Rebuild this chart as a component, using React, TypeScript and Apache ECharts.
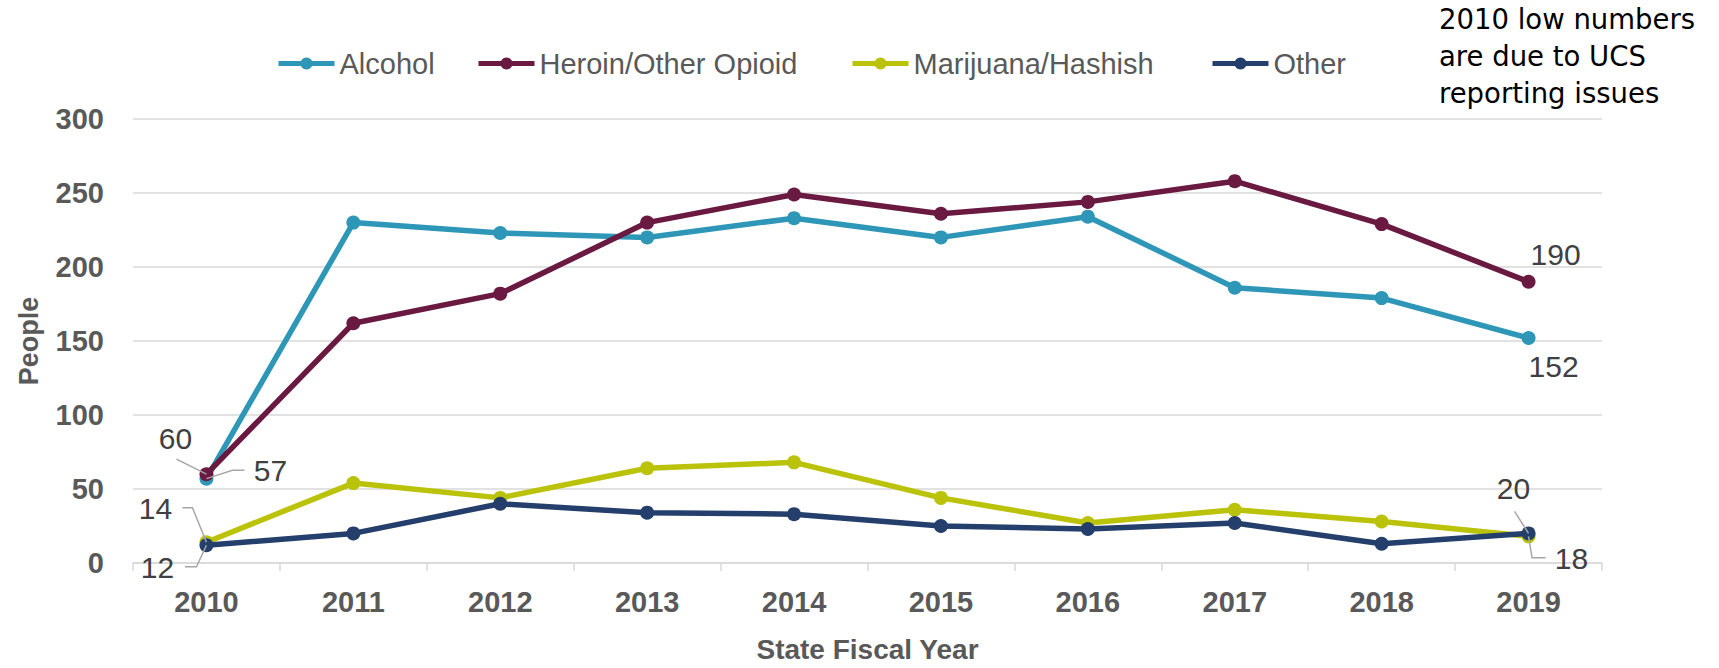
import React, { useEffect, useRef } from 'react';
import * as echarts from 'echarts';

const FONT = '"Liberation Sans", Arial, sans-serif';
const NOTE_FONT = '"DejaVu Sans", "Liberation Sans", Arial, sans-serif';

const years = ['2010', '2011', '2012', '2013', '2014', '2015', '2016', '2017', '2018', '2019'];
const alcohol = [57, 230, 223, 220, 233, 220, 234, 186, 179, 152];
const heroin = [60, 162, 182, 230, 249, 236, 244, 258, 229, 190];
const marijuana = [14, 54, 44, 64, 68, 44, 27, 36, 28, 18];
const other = [12, 20, 40, 34, 33, 25, 23, 27, 13, 20];
const seriesNames = ['Alcohol', 'Heroin/Other Opioid', 'Marijuana/Hashish', 'Other'];
const colors = ['#2E96B7', '#6A1A41', '#BAC20A', '#243F6C'];
const yMin = 0;
const yMax = 300;
const yStep = 50;
const noteLines = ['2010 low numbers', 'are due to UCS', 'reporting issues'];

// legend item left edges (px)
const legendLefts = [271, 471, 845, 1205];

// label placement (offsets from the point, in px) and leader lines
type LabelSpec = { idx: number; offset: [number, number]; leader?: [number, number][] };
const labelSpecs: LabelSpec[][] = [
  [
    { idx: 0, offset: [64, -8], leader: [[38, -8.4], [26, -8.4], [0, 0]] },
    { idx: 9, offset: [25, 28] },
  ],
  [
    { idx: 0, offset: [-31, -36], leader: [[-30, -15], [0, 0]] },
    { idx: 9, offset: [27, -27] },
  ],
  [
    { idx: 0, offset: [-51, -34], leader: [[-24, -34.5], [-14, -34.5], [0, 0]] },
    { idx: 9, offset: [43, 22], leader: [[0, 0], [3.5, 21.5], [17, 21.5]] },
  ],
  [
    { idx: 0, offset: [-49, 22], leader: [[-21.5, 21.5], [-10, 21.5], [0, 0]] },
    { idx: 9, offset: [-15, -45], leader: [[-14, -22], [0, 0]] },
  ],
];

export default function App() {
  const ref = useRef<HTMLDivElement>(null);
  useEffect(() => {
    document.body.style.margin = '0';
    const chart = echarts.init(ref.current!, null, { renderer: 'svg', width: 1719, height: 668 });
    const allValues = [alcohol, heroin, marijuana, other];
    const series = allValues.map((vals, si) => ({
      name: seriesNames[si],
      type: 'line',
      data: vals.map((v, i) => {
        const spec = labelSpecs[si].find((s) => s.idx === i);
        if (!spec) return v;
        return {
          value: v,
          label: {
            show: true,
            position: 'inside',
            offset: spec.offset,
            formatter: String(v),
            fontSize: 30,
            color: '#404040',
            fontFamily: FONT,
            align: 'center',
            verticalAlign: 'middle',
          },
        };
      }),
      symbol: 'circle',
      symbolSize: 14,
      showSymbol: true,
      lineStyle: { width: 5.5, color: colors[si] },
      itemStyle: { color: colors[si] },
      label: { show: false },
      emphasis: { disabled: true },
      z: 2 + si,
    }));

    chart.setOption({
      animation: false,
      backgroundColor: '#ffffff',
      grid: { left: 133, right: 117, top: 119, bottom: 100, containLabel: false },
      legend: seriesNames.map((n, i) => ({
        data: [n],
        left: legendLefts[i],
        top: 44,
        itemWidth: 56,
        itemHeight: 15,
        lineStyle: { width: 5 },
        textStyle: { fontSize: 29, color: '#595959', fontFamily: FONT },
      })),
      xAxis: {
        type: 'category',
        data: years,
        boundaryGap: true,
        axisLine: { lineStyle: { color: '#D9D9D9', width: 1.5 } },
        axisTick: { show: true, length: 8, lineStyle: { color: '#D9D9D9', width: 1.5 } },
        axisLabel: { fontSize: 29, fontWeight: 'bold', color: '#595959', margin: 24, fontFamily: FONT },
        name: 'State Fiscal Year',
        nameLocation: 'middle',
        nameGap: 72,
        nameTextStyle: { fontSize: 28, fontWeight: 'bold', color: '#595959', fontFamily: FONT },
      },
      yAxis: {
        type: 'value',
        min: yMin,
        max: yMax,
        interval: yStep,
        axisLine: { show: false },
        axisTick: { show: false },
        splitLine: { lineStyle: { color: '#D9D9D9', width: 1.5 } },
        axisLabel: { fontSize: 29, fontWeight: 'bold', color: '#595959', margin: 29, fontFamily: FONT },
        name: 'People',
        nameLocation: 'middle',
        nameGap: 91,
        nameTextStyle: { fontSize: 27, fontWeight: 'bold', color: '#595959', fontFamily: FONT },
      },
      series,
    });

    const graphics: any[] = noteLines.map((line, i) => ({
      type: 'text',
      left: 1439,
      top: 5 + i * 37,
      style: { text: line, fontSize: 27.5, fill: '#000000', fontFamily: NOTE_FONT },
      z: 10,
    }));
    allValues.forEach((vals, si) => {
      labelSpecs[si].forEach((spec) => {
        if (!spec.leader) return;
        const p = chart.convertToPixel({ seriesIndex: si }, [spec.idx, vals[spec.idx]]) as number[];
        graphics.push({
          type: 'polyline',
          shape: { points: spec.leader.map(([dx, dy]) => [p[0] + dx, p[1] + dy]) },
          style: { stroke: '#A6A6A6', lineWidth: 1.5, fill: null },
          z: 20,
          silent: true,
        });
      });
    });
    chart.setOption({ graphic: graphics });

    return () => chart.dispose();
  }, []);
  return (
    <div
      ref={ref}
      style={{ position: 'absolute', left: 0, top: 0, width: 1719, height: 668, background: '#fff' }}
    />
  );
}
